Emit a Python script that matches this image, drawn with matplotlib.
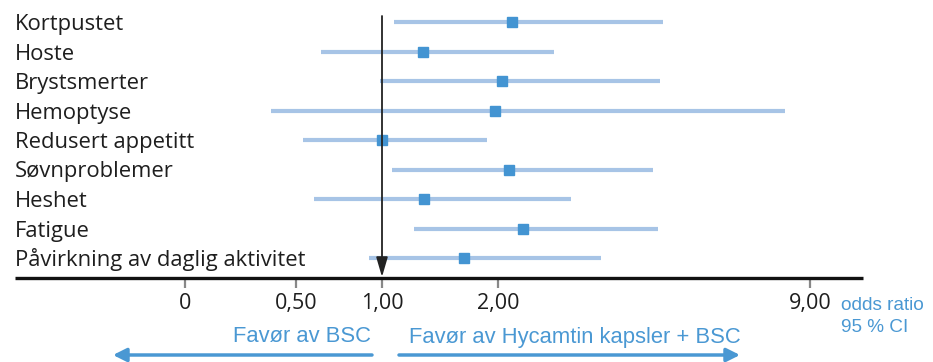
import numpy as np
import matplotlib
matplotlib.use("Agg")
import matplotlib.pyplot as plt
from matplotlib.transforms import blended_transform_factory as blend
from matplotlib.patches import FancyArrowPatch

plt.rcParams['font.family'] = ['Open Sans', 'DejaVu Sans']

# ---- data ----
categories = ["Kortpustet", "Hoste", "Brystsmerter", "Hemoptyse", "Redusert appetitt",
              "Søvnproblemer", "Heshet", "Fatigue", "Påvirkning av daglig aktivitet"]
odds_ratio = [2.31, 1.35, 2.09, 1.97, 1.00, 2.25, 1.36, 2.56, 1.71]
ci_low = [1.10, 0.645, 0.99, 0.387, 0.54, 1.09, 0.605, 1.28, 0.924]
ci_high = [5.70, 3.26, 5.63, 8.44, 1.905, 5.48, 3.64, 5.59, 4.31]
tick_values = [0, 0.5, 1, 2, 9]
tick_labels = ["0", "0,50", "1,00", "2,00", "9,00"]

# piecewise axis (non-uniform spacing as in the source graphic)
TICK_POS = np.array([0.0, 111.0, 197.0, 313.0, 625.0])
TV = np.array(tick_values, float)
S0 = (TICK_POS[1] - TICK_POS[0]) / (TV[1] - TV[0])
S1 = (TICK_POS[-1] - TICK_POS[-2]) / (TV[-1] - TV[-2])


def fwd(v):
    v = np.asarray(v, float)
    out = np.interp(v, TV, TICK_POS)
    out = np.where(v < TV[0], TICK_POS[0] + (v - TV[0]) * S0, out)
    out = np.where(v > TV[-1], TICK_POS[-1] + (v - TV[-1]) * S1, out)
    return out


def inv(p):
    p = np.asarray(p, float)
    out = np.interp(p, TICK_POS, TV)
    out = np.where(p < TICK_POS[0], TV[0] + (p - TICK_POS[0]) / S0, out)
    out = np.where(p > TICK_POS[-1], TV[-1] + (p - TICK_POS[-1]) / S1, out)
    return out


W, H = 933, 362
fig = plt.figure(figsize=(W / 100, H / 100), dpi=100)

ax_l, ax_r = 185, 810
ax_top, ax_bot = 0, 278
ax = fig.add_axes([ax_l / W, 1 - ax_bot / H, (ax_r - ax_l) / W, (ax_bot - ax_top) / H])
ax.set_xscale('function', functions=(fwd, inv))
ax.set_xlim(0, 9)

row0, dy = 22.0, 29.5
ax.set_ylim((ax_bot - row0) / dy, (ax_top - row0) / dy)

y = np.arange(len(categories))
CI_COL = "#a7c4e6"
PT_COL = "#4394d2"
TXT_BLUE = "#4a98d3"
TXT = "#1e1e1e"
BLUE_FONT = ['Liberation Sans', 'DejaVu Sans']

ax.hlines(y, ci_low, ci_high, color=CI_COL, lw=3.0, zorder=2, clip_on=False)
ax.plot(odds_ratio, y, ls='none', marker='s', ms=7.5, color=PT_COL, zorder=3, clip_on=False)

for s in ax.spines.values():
    s.set_visible(False)
ax.set_yticks([])
ax.set_xticks(tick_values)
ax.set_xticklabels(tick_labels, fontsize=15.5, color=TXT)
ax.tick_params(axis='x', direction='out', length=7.5, width=1.6, color="#888888", pad=3)
ax.set_facecolor('none')


def xf(px):
    return (px - ax_l) / (ax_r - ax_l)


def yf(py):
    return (ax_bot - py) / (ax_bot - ax_top)


# category labels
for i, c in enumerate(categories):
    ax.text(xf(15), i + 8 / dy, c, transform=blend(ax.transAxes, ax.transData),
            ha='left', va='baseline', fontsize=15.8, color=TXT, clip_on=False)

# horizontal baseline
ax.plot([xf(15), xf(863)], [0, 0], transform=ax.transAxes, color="#111111", lw=2.4,
        clip_on=False, solid_capstyle='butt', zorder=4)

# reference line at OR = 1 with arrow head
tr = blend(ax.transData, ax.transAxes)
ax.annotate('', xy=(1, yf(277)), xytext=(1, yf(16)), xycoords=tr, textcoords=tr,
            arrowprops=dict(arrowstyle='-|>,head_length=1.2,head_width=0.35', color="#222222",
                            lw=1.3, shrinkA=0, shrinkB=0), zorder=5)

# right side labels
fig.text(841 / W, 1 - 305 / H, "odds ratio", ha='left', va='center', fontsize=13.7,
         color=TXT_BLUE, family=BLUE_FONT)
fig.text(841 / W, 1 - 327 / H, "95 % CI", ha='left', va='center', fontsize=13.7,
         color=TXT_BLUE, family=BLUE_FONT)

# bottom direction labels and arrows
fig.text(371 / W, 1 - 337 / H, "Favør av BSC", ha='right', va='center', fontsize=15.8,
         color=TXT_BLUE, family=BLUE_FONT)
fig.text(409 / W, 1 - 337 / H, "Favør av Hycamtin kapsler + BSC", ha='left', va='center',
         fontsize=15.8, color=TXT_BLUE, family=BLUE_FONT)
fig.add_artist(FancyArrowPatch((372 / W, 1 - 355 / H), (113 / W, 1 - 355 / H),
               transform=fig.transFigure, arrowstyle='-|>,head_length=8,head_width=4',
               color=TXT_BLUE, lw=2.5, shrinkA=0, shrinkB=0))
fig.add_artist(FancyArrowPatch((399 / W, 1 - 355 / H), (740 / W, 1 - 355 / H),
               transform=fig.transFigure, arrowstyle='-|>,head_length=8,head_width=4',
               color=TXT_BLUE, lw=2.5, shrinkA=0, shrinkB=0))

fig.savefig("out.png", dpi=100, facecolor='white')
